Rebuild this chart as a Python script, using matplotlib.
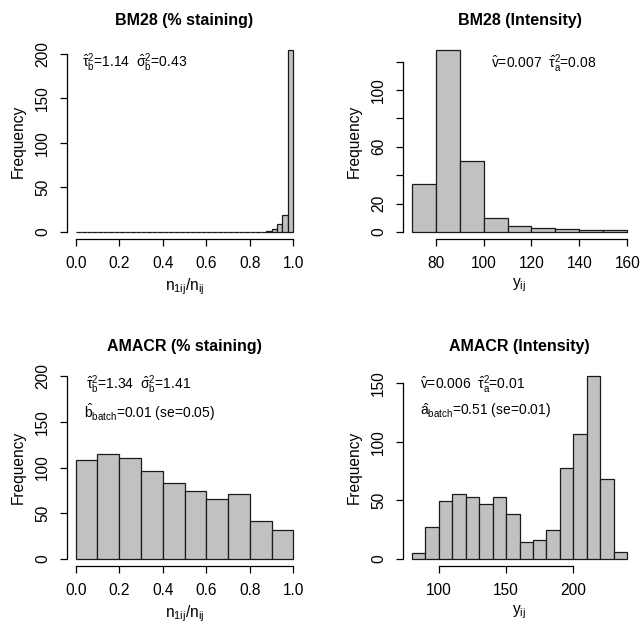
import numpy as np
import matplotlib
matplotlib.use("Agg")
import matplotlib.pyplot as plt

plt.rcParams['font.family'] = ['Liberation Sans', 'DejaVu Sans']
plt.rcParams['mathtext.fontset'] = 'custom'
plt.rcParams['mathtext.rm'] = 'Liberation Sans'
plt.rcParams['mathtext.it'] = 'Liberation Sans'
plt.rcParams['mathtext.bf'] = 'Liberation Sans:bold'

# ---- data (histogram bin edges and counts) ----
bm28_pct_edges = np.linspace(0.0, 1.0, 41)
bm28_pct_counts = [0] * 35 + [1, 3, 9, 19, 204]

bm28_int_edges = np.arange(70, 161, 10)
bm28_int_counts = [34, 128, 50, 10, 4, 3, 2, 1, 1]

amacr_pct_edges = np.linspace(0.0, 1.0, 11)
amacr_pct_counts = [108, 115, 110, 96, 83, 74, 66, 71, 41, 32]

amacr_int_edges = np.arange(80, 241, 10)
amacr_int_counts = [5, 27, 49, 55, 53, 47, 53, 38, 14, 16, 25, 78, 107, 156, 68, 6]

FILL = "#c0c1c2"


def r_hist(ax, edges, counts, xlim, ylim, xticks, yticks, ytick_labels,
           title, xlabel):
    edges = np.asarray(edges, dtype=float)
    ax.bar(edges[:-1], counts, width=np.diff(edges), align="edge",
           color=FILL, edgecolor="#1a1a1a", linewidth=0.9)
    # R style 4% padding
    dx = (xlim[1] - xlim[0]) * 0.04
    dy = (ylim[1] - ylim[0]) * 0.04
    ax.set_xlim(xlim[0] - dx, xlim[1] + dx)
    ax.set_ylim(ylim[0] - dy, ylim[1] + dy)
    for s in ("top", "right"):
        ax.spines[s].set_visible(False)
    ax.spines["bottom"].set_bounds(xticks[0], xticks[-1])
    ax.spines["left"].set_bounds(yticks[0], yticks[-1])
    for s in ("bottom", "left"):
        ax.spines[s].set_linewidth(0.9)
    ax.set_xticks(xticks)
    ax.set_yticks(yticks)
    ax.set_yticklabels(ytick_labels, rotation=90, va="center")
    ax.tick_params(direction="out", length=5, width=0.9, labelsize=11.2,
                   pad=7)
    ax.set_title(title, fontsize=11.5, fontweight="bold", pad=13)
    ax.set_xlabel(xlabel, fontsize=11.2, labelpad=4)
    ax.set_ylabel("Frequency", fontsize=11.2, labelpad=7)
    ax.patch.set_visible(False)


fig = plt.figure(figsize=(6.42, 6.26), dpi=100)

ax1 = fig.add_axes([0.1044, 0.618, 0.366, 0.313])
ax2 = fig.add_axes([0.6277, 0.618, 0.363, 0.313])
ax3 = fig.add_axes([0.1044, 0.0958, 0.366, 0.3147])
ax4 = fig.add_axes([0.6277, 0.0958, 0.363, 0.3147])

xl_pct = r"$\mathregular{n_{1ij}/n_{ij}}$"
xl_int = r"$\mathregular{y_{ij}}$"

r_hist(ax1, bm28_pct_edges, bm28_pct_counts, (0, 1), (0, 204),
       [0, 0.2, 0.4, 0.6, 0.8, 1.0], [0, 50, 100, 150, 200],
       ["0", "50", "100", "150", "200"], "BM28 (% staining)", xl_pct)
ax1.set_xticklabels(["0.0", "0.2", "0.4", "0.6", "0.8", "1.0"])

r_hist(ax2, bm28_int_edges, bm28_int_counts, (70, 160), (0, 128),
       [80, 100, 120, 140, 160], [0, 20, 40, 60, 80, 100, 120],
       ["0", "20", "", "60", "", "100", ""], "BM28 (Intensity)", xl_int)

r_hist(ax3, amacr_pct_edges, amacr_pct_counts, (0, 1), (0, 200),
       [0, 0.2, 0.4, 0.6, 0.8, 1.0], [0, 50, 100, 150, 200],
       ["0", "50", "100", "150", "200"], "AMACR (% staining)", xl_pct)
ax3.set_xticklabels(["0.0", "0.2", "0.4", "0.6", "0.8", "1.0"])

r_hist(ax4, amacr_int_edges, amacr_int_counts, (80, 240), (0, 156),
       [100, 150, 200], [0, 50, 100, 150],
       ["0", "50", "100", "150"], "AMACR (Intensity)", xl_int)

ann = dict(fontsize=10, ha="left", va="center")
ax1.text(0.03, 190,
         r"$\mathregular{\hat{\tau}^2_b}$=1.14  $\mathregular{\hat{\sigma}^2_b}$=0.43",
         **ann)
ax2.text(103, 119,
         r"$\mathregular{\hat{v}}$=0.007  $\mathregular{\hat{\tau}^2_a}$=0.08",
         **ann)
ax3.text(0.045, 191,
         r"$\mathregular{\hat{\tau}^2_b}$=1.34  $\mathregular{\hat{\sigma}^2_b}$=1.41",
         **ann)
ax3.text(0.04, 161,
         r"$\mathregular{\hat{b}_{batch}}$=0.01 (se=0.05)", **ann)
ax4.text(86, 149,
         r"$\mathregular{\hat{v}}$=0.006  $\mathregular{\hat{\tau}^2_a}$=0.01",
         **ann)
ax4.text(86, 127,
         r"$\mathregular{\hat{a}_{batch}}$=0.51 (se=0.01)", **ann)

fig.savefig("out.png", dpi=100)
